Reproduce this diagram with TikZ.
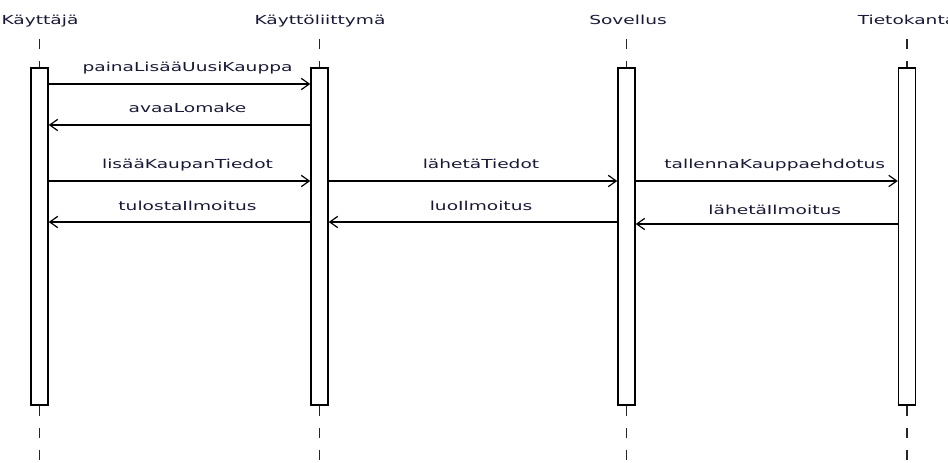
\documentclass[tikz,border=0pt]{standalone}
\usepackage{fontspec}
\usepackage{xcolor}
\newfontfamily\diagfont{DejaVu Sans}[FakeStretch=1.5]
\usetikzlibrary{positioning,arrows.meta}
\definecolor{msgtext}{RGB}{25,25,55}

\begin{document}
\begin{tikzpicture}[
    x=0.75pt, y=-0.75pt,
    actor/.style={anchor=base, inner sep=0pt, font=\diagfont\fontsize{9.3}{11}\selectfont, text=msgtext},
    bar/.style={rectangle, draw=black, fill=white, line width=1.1pt, minimum width=12.75pt, minimum height=252.75pt, inner sep=0pt},
    life/.style={draw=black!85, line width=0.8pt, dash pattern=on 7.5pt off 9pt},
    msg/.style={-{Straight Barb[length=6pt, width=8.5pt]}, line width=0.9pt},
    lbl/.style={anchor=base, yshift=9pt, xshift=6pt, inner sep=0pt, font=\diagfont\fontsize{9.3}{11}\selectfont, text=msgtext}
]
\clip (0,0) rectangle (948,463);

% Participants
\node[actor] (user) at (40,25) {Käyttäjä};
\node[actor] (ui) at (320,25) {Käyttöliittymä};
\node[actor] (app) at (628,25) {Sovellus};
\node[actor] (db) at (907,25) {Tietokanta};

% Activation bars
\node[bar] (userbar) at (39.5,236.5) {};
\node[bar] (uibar) at (319.5,236.5) {};
\node[bar] (appbar) at (626.5,236.5) {};
\node[bar] (dbbar) at (907,236.5) {};

% Lifelines
\draw[life] ([yshift=21pt]userbar.north) -- (userbar.north);
\draw[life] ([yshift=21pt]uibar.north) -- (uibar.north);
\draw[life] ([yshift=21pt]appbar.north) -- (appbar.north);
\draw[life] ([yshift=21pt]dbbar.north) -- (dbbar.north);
\draw[life] (userbar.south) -- ([yshift=-50pt]userbar.south);
\draw[life] (uibar.south) -- ([yshift=-50pt]uibar.south);
\draw[life] (appbar.south) -- ([yshift=-50pt]appbar.south);
\draw[life] (dbbar.south) -- ([yshift=-50pt]dbbar.south);

% Messages
\coordinate (m1) at (0,84);
\coordinate (m2) at (0,125);
\coordinate (m3) at (0,181);
\coordinate (m4) at (0,222);
\coordinate (m5) at (0,224);

\draw[msg] (userbar.east |- m1) -- node[lbl] {painaLisääUusiKauppa} (uibar.west |- m1);
\draw[msg] (uibar.west |- m2) -- node[lbl] {avaaLomake} (userbar.east |- m2);
\draw[msg] (userbar.east |- m3) -- node[lbl] {lisääKaupanTiedot} (uibar.west |- m3);
\draw[msg] (uibar.east |- m3) -- node[lbl] {lähetäTiedot} (appbar.west |- m3);
\draw[msg] (appbar.east |- m3) -- node[lbl] {tallennaKauppaehdotus} (dbbar.west |- m3);
\draw[msg] (dbbar.west |- m5) -- node[lbl, yshift=-2pt] {lähetäIlmoitus} (appbar.east |- m5);
\draw[msg] (appbar.west |- m4) -- node[lbl] {luoIlmoitus} (uibar.east |- m4);
\draw[msg] (uibar.west |- m4) -- node[lbl] {tulostaIlmoitus} (userbar.east |- m4);

\end{tikzpicture}
\end{document}
